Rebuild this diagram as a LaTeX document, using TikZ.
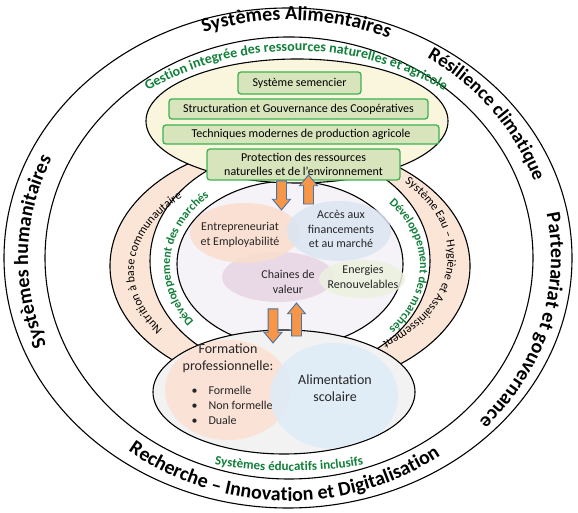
\documentclass[tikz,border=0pt]{standalone}
\usepackage{fontspec}
\setmainfont{Carlito}
\usetikzlibrary{shapes.arrows, decorations.text}
\definecolor{peach}{RGB}{251,229,214}
\definecolor{lavender}{RGB}{245,243,248}
\definecolor{pinkb}{RGB}{232,212,227}
\definecolor{peachb}{RGB}{250,221,205}
\definecolor{blueb}{RGB}{218,229,242}
\definecolor{greenb}{RGB}{235,241,222}
\definecolor{cream}{RGB}{250,246,222}
\definecolor{gfill}{RGB}{216,228,188}
\definecolor{gline}{RGB}{60,178,80}
\definecolor{gtext}{RGB}{18,128,58}
\definecolor{greyf}{RGB}{242,242,242}
\definecolor{formb}{RGB}{251,225,212}
\definecolor{alimb}{RGB}{221,235,247}
\definecolor{aorange}{RGB}{247,150,70}
\definecolor{ablue}{RGB}{68,114,170}
\newcommand\ringfont{\bfseries\fontsize{20}{20}\selectfont}
\newcommand\greenfont{\bfseries\fontsize{12}{12}\selectfont}
\newcommand\bandfont{\fontsize{12}{12}\selectfont}

\begin{document}
\begin{tikzpicture}[x=1pt, y=1pt,
  ring/.style={draw=black, line width=1.1pt},
  boxg/.style={draw=gline, fill=gfill, line width=1.3pt, rounded corners=3pt, inner sep=0pt, align=center, font=\fontsize{12}{14}\selectfont},
  lbl/.style={align=center, font=\fontsize{12}{14.5}\selectfont, text=black!85},
  biglbl/.style={align=center, font=\fontsize{14}{17}\selectfont, text=black!85},
  barrow/.style={single arrow, draw=ablue, fill=aorange, line width=.9pt, inner sep=4.5pt, single arrow head extend=4pt, single arrow tip angle=80},
  curved/.style={decorate, decoration={text along path, text align=center, #1}},
]
\useasboundingbox (0,0) rectangle (578,513);

% outer rings
\draw[ring, fill=white] (288,255) ellipse [x radius=284, y radius=250];
\draw[ring, fill=white] (289,255) ellipse [x radius=244, y radius=221];

% middle bands
\draw[ring, fill=peach] (290,247) ellipse [x radius=180, y radius=124];
\draw[ring, fill=white] (290,252) ellipse [x radius=140, y radius=112];
\draw[ring, fill=lavender] (290,249) ellipse [x radius=113, y radius=83];

\fill[pinkb, opacity=.85] (278,236) ellipse [x radius=56, y radius=25];
\fill[peachb, opacity=.85] (245,280) ellipse [x radius=55, y radius=30];
\fill[blueb, opacity=.85] (339,282) ellipse [x radius=52, y radius=30];
\fill[greenb, opacity=.85] (362,234) ellipse [x radius=43, y radius=19];

\node[lbl] (entre) at (240,278) {Entrepreneuriat\\et Employabilité};
\node[lbl] (acces) at (341,284) {Accès aux\\financements\\et au marché};
\node[lbl] (chaine) at (288,231) {Chaines de\\valeur};
\node[lbl] (energ) at (363,236) {Energies\\Renouvelables};

% top ellipse
\draw[ring, fill=cream] (297,392) ellipse [x radius=151, y radius=62];
\node[boxg, minimum width=123pt, minimum height=22pt] (sem) at (299.5,430) {Système semencier};
\node[boxg, minimum width=259pt, minimum height=20pt] (struct) at (298.5,404) {Structuration et Gouvernance des Coopératives};
\node[boxg, minimum width=276pt, minimum height=19pt] (tech) at (301,378.5) {Techniques modernes de production agricole};
\node[boxg, minimum width=193pt, minimum height=31pt] (prot) at (303.5,348.5) {Protection des ressources\\naturelles et de l’environnement};

% bottom ellipse
\draw[ring, fill=greyf] (284,121) ellipse [x radius=131, y radius=62];
\begin{scope}
  \clip (284,121) ellipse [x radius=130, y radius=61];
  \fill[formb, opacity=.9] (228,123) ellipse [x radius=63, y radius=50];
  \fill[alimb, opacity=.85] (334,117) ellipse [x radius=64, y radius=53];
\end{scope}
\node[biglbl] (form) at (228,155) {Formation\\professionnelle:};
\node[lbl, anchor=west, align=left, font=\fontsize{12}{15}\selectfont] (types) at (188,108) {•\hspace{11pt}Formelle\\•\hspace{11pt}Non formelle\\•\hspace{11pt}Duale};
\node[biglbl] (alim) at (335,125) {Alimentation\\scolaire};

% arrows
\node[barrow, minimum height=29pt, rotate=-90] (dnA) at (281.5,320.5) {};
\node[barrow, minimum height=29pt, rotate=90] (upA) at (308.5,320.5) {};
\node[barrow, minimum height=34pt, rotate=-90] (dnB) at (273,190) {};
\node[barrow, minimum height=33pt, rotate=90] (upB) at (296.5,190.5) {};

% ring texts
\path[curved={text={|\ringfont|Systèmes Alimentaires}}] (288,255) ++(134:260 and 238) arc[start angle=134, end angle=42, x radius=260, y radius=238];
\path[curved={text={|\bfseries\fontsize{19}{19}\selectfont|Résilience climatique}}] (288,255) ++(77:260 and 237) arc[start angle=77, end angle=-2, x radius=260, y radius=237];
\path[curved={text={|\ringfont|Partenariat et gouvernance}}] (288,255) ++(25:263 and 237) arc[start angle=25, end angle=-57, x radius=263, y radius=237];
\path[curved={text={|\ringfont|Systèmes humanitaires}}] (288,255) ++(230:260 and 237) arc[start angle=230, end angle=127, x radius=260, y radius=237];
\path[curved={text={|\ringfont|Recherche – Innovation et Digitalisation}}] (288,255) ++(200:262 and 243) arc[start angle=200, end angle=338, x radius=262, y radius=243];

% green texts
\path[curved={text color=gtext, text={|\bfseries\fontsize{14}{14}\selectfont|Gestion integrée des ressources naturelles et agricole}}] (296,166) ++(150:296) arc[start angle=150, end angle=30, radius=296];
\path[curved={text color=gtext, text={|\bfseries\fontsize{13}{13}\selectfont|Systèmes éducatifs inclusifs}}] (289,485) ++(250:443) arc[start angle=250, end angle=290, radius=443];
\path[curved={text color=gtext, text={|\greenfont|Développement des marchés}}] (295,247) ++(230:125 and 95) arc[start angle=230, end angle=120, x radius=125, y radius=95];
\path[curved={text color=gtext, text={|\greenfont|Développement des marchés}}] (295,247) ++(60:125 and 95) arc[start angle=60, end angle=-60, x radius=125, y radius=95];

% band texts
\path[curved={text={|\bandfont|Nutrition à base communautaire}}] (292,242) ++(230:158 and 102) arc[start angle=230, end angle=120, x radius=158, y radius=102];
\path[curved={text={|\bandfont|Système Eau – Hygiène et Assainissement}}] (292,257) ++(60:156 and 106) arc[start angle=60, end angle=-70, x radius=156, y radius=106];
\end{tikzpicture}
\end{document}
